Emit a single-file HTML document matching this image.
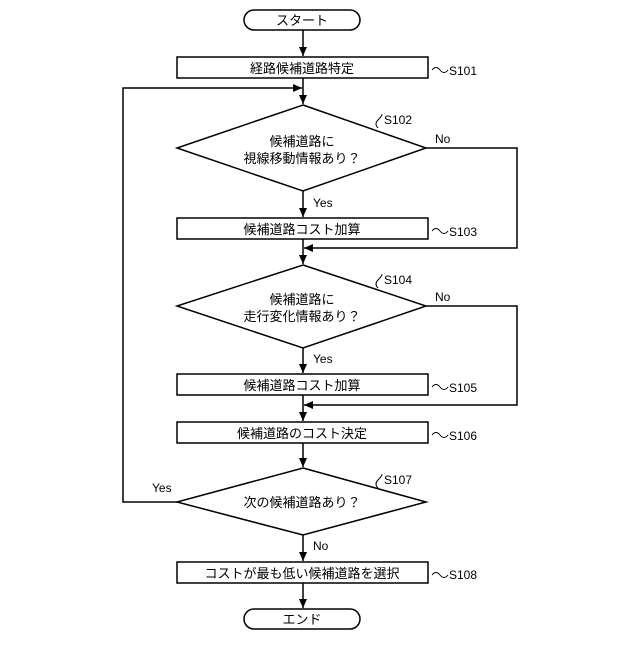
<!DOCTYPE html>
<html><head><meta charset="utf-8"><style>
html,body{margin:0;padding:0;background:#fff;}
svg text{font-family:"Liberation Sans","Noto Sans CJK JP",sans-serif;fill:#000;}
</style></head><body>
<svg width="640" height="640" viewBox="0 0 640 640" xmlns="http://www.w3.org/2000/svg">
<defs><marker id="a" markerWidth="10" markerHeight="10" refX="9" refY="5" orient="auto" markerUnits="userSpaceOnUse"><path d="M0,1 L9,5 L0,9 Z" fill="#000"/></marker></defs>
<g stroke="#000" stroke-width="1.5" fill="none">
<rect x="244" y="10" width="116" height="20" rx="10"/>
<rect x="177" y="57" width="251" height="21"/>
<polygon points="303,105 426,148 303,191 177,148"/>
<rect x="177" y="218" width="251" height="21"/>
<polygon points="303,265 426,306 303,348 177,306"/>
<rect x="177" y="374" width="251" height="21"/>
<rect x="177" y="422" width="251" height="21"/>
<polygon points="303,468 426,502 303,535 177,502"/>
<rect x="177" y="562" width="251" height="21"/>
<rect x="244" y="609" width="116" height="20" rx="10"/>
<line x1="303" y1="30" x2="303" y2="56" marker-end="url(#a)"/>
<line x1="303" y1="78" x2="303" y2="104" marker-end="url(#a)"/>
<polyline points="177,502 123,502 123,88 302,88" marker-end="url(#a)"/>
<line x1="303" y1="191" x2="303" y2="217" marker-end="url(#a)"/>
<polyline points="426,148 517,148 517,248 304,248" marker-end="url(#a)"/>
<line x1="303" y1="239" x2="303" y2="264" marker-end="url(#a)"/>
<line x1="303" y1="348" x2="303" y2="373" marker-end="url(#a)"/>
<polyline points="426,306 517,306 517,405 304,405" marker-end="url(#a)"/>
<line x1="303" y1="395" x2="303" y2="421" marker-end="url(#a)"/>
<line x1="303" y1="443" x2="303" y2="467" marker-end="url(#a)"/>
<line x1="303" y1="535" x2="303" y2="561" marker-end="url(#a)"/>
<line x1="303" y1="583" x2="303" y2="608" marker-end="url(#a)"/>
<g stroke-width="1">
<path d="M432,70 q4,-5 8,0 t8,0"/>
<path d="M432,231 q4,-5 8,0 t8,0"/>
<path d="M432,387 q4,-5 8,0 t8,0"/>
<path d="M432,435 q4,-5 8,0 t8,0"/>
<path d="M432,575 q4,-5 8,0 t8,0"/>
<path d="M378,128 q-4,-4 0,-8 t4,-6"/>
<path d="M378,288 q-4,-4 0,-8 t4,-6"/>
<path d="M378,488 q-4,-4 0,-8 t4,-6"/>
</g>
</g>
<g font-size="13">
<text x="302" y="25" text-anchor="middle">スタート</text>
<text x="302" y="73" text-anchor="middle">経路候補道路特定</text>
<text x="302" y="146" text-anchor="middle">候補道路に</text>
<text x="302" y="163" text-anchor="middle">視線移動情報あり？</text>
<text x="302" y="234" text-anchor="middle">候補道路コスト加算</text>
<text x="302" y="304" text-anchor="middle">候補道路に</text>
<text x="302" y="321" text-anchor="middle">走行変化情報あり？</text>
<text x="302" y="390" text-anchor="middle">候補道路コスト加算</text>
<text x="302" y="438" text-anchor="middle">候補道路のコスト決定</text>
<text x="302" y="507" text-anchor="middle">次の候補道路あり？</text>
<text x="302" y="578" text-anchor="middle">コストが最も低い候補道路を選択</text>
<text x="302" y="624" text-anchor="middle">エンド</text>
</g>
<g font-size="12">
<text x="449" y="75">S101</text>
<text x="384" y="124">S102</text>
<text x="449" y="236">S103</text>
<text x="384" y="284">S104</text>
<text x="449" y="392">S105</text>
<text x="449" y="440">S106</text>
<text x="384" y="484">S107</text>
<text x="449" y="579">S108</text>
<text x="435" y="143">No</text>
<text x="313" y="207">Yes</text>
<text x="435" y="301">No</text>
<text x="313" y="363">Yes</text>
<text x="152" y="492">Yes</text>
<text x="313" y="550">No</text>
</g>
</svg>
</body></html>
